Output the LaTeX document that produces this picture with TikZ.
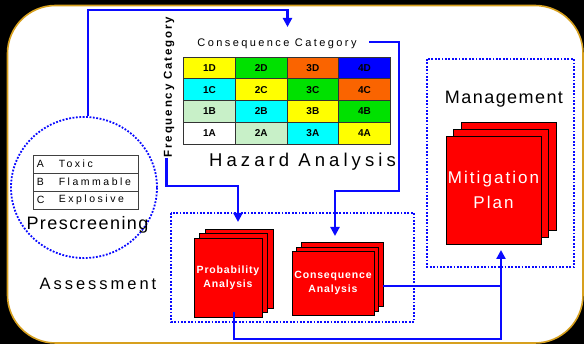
\documentclass[tikz,border=0pt]{standalone}
\usepackage{fontspec}
\setmainfont{Liberation Sans}
\newfontfamily\wideH[LetterSpace=22]{Liberation Sans}
\newfontfamily\wideL[LetterSpace=18]{Liberation Sans}
\newfontfamily\wideM[LetterSpace=8]{Liberation Sans}
\newfontfamily\wideF[LetterSpace=16]{Liberation Sans}
\newfontfamily\wideS[LetterSpace=22]{Liberation Sans}
\newfontfamily\wideT[LetterSpace=24]{Liberation Sans}
\newfontfamily\wideP[LetterSpace=12]{Liberation Sans}
\usetikzlibrary{arrows.meta,shapes.geometric}
\definecolor{gold}{RGB}{215,160,30}
\definecolor{hy}{RGB}{255,255,0}
\definecolor{hg}{RGB}{0,225,0}
\definecolor{ho}{RGB}{250,100,0}
\definecolor{hb}{RGB}{0,0,255}
\definecolor{hc}{RGB}{0,255,255}
\definecolor{hl}{RGB}{200,240,200}
\definecolor{hw}{RGB}{255,255,255}
\definecolor{flowblue}{RGB}{10,10,255}
\begin{document}
\begin{tikzpicture}[x=1pt,y=-1pt,
  flow/.style={draw=flowblue,line width=2.2pt,-{Triangle[width=9pt,length=9pt]}},
  flowline/.style={draw=flowblue,line width=2.2pt},
  dotbox/.style={draw=flowblue,line width=1.8pt,dash pattern=on 1.8pt off 1.6pt},
  redbox/.style={draw=black,line width=0.8pt,fill=red,inner sep=0pt},
  cell/.style={draw=black!80,line width=0.8pt,minimum width=51.7pt,minimum height=21.75pt,inner sep=0pt,font=\bfseries\fontsize{10}{10}\selectfont},
  tcell/.style={draw=black!75,line width=0.8pt,minimum width=105pt,minimum height=18pt,inner sep=0pt},
  lbl/.style={inner sep=0pt}
]
\fill[black] (0,0) rectangle (584,344);
\draw[gold,line width=1.6pt,fill=white,rounded corners=48pt] (7.5,5.5) rectangle (583,343);

% Hazard grid
\foreach \lab/\col/\i/\j in {1D/hy/0/0,2D/hg/1/0,3D/ho/2/0,4D/hb/3/0,
  1C/hc/0/1,2C/hy/1/1,3C/hg/2/1,4C/ho/3/1,
  1B/hl/0/2,2B/hc/1/2,3B/hy/2/2,4B/hg/3/2,
  1A/hw/0/3,2A/hl/1/3,3A/hc/2/3,4A/hy/3/3}
  \node[cell,fill=\col] (cell\lab) at ({183.6+51.7*\i+25.85},{57+21.75*\j+10.875}) {\lab};

\node[lbl,font=\fontsize{11}{11}\selectfont\wideS] (cc) at (277,44) {Consequence Category};
\node[lbl,rotate=90,font=\bfseries\fontsize{11.5}{11.5}\selectfont\wideF] (fc) at (169,87) {Frequency Category};
\node[lbl,font=\fontsize{18.5}{18.5}\selectfont\wideH] (ha) at (302.5,162) {Hazard Analysis};

% Prescreening
\node[draw=flowblue,line width=1.8pt,dash pattern=on 1.8pt off 1.6pt,ellipse,minimum width=146pt,minimum height=141pt,inner sep=0pt] (pre) at (84,187.5) {};
\node[tcell] (ta) at (85.5,164) {};
\node[tcell] (tb) at (85.5,182) {};
\node[tcell] (tc) at (85.5,200) {};
\foreach \n/\l/\w in {ta/A/Toxic,tb/B/Flammable,tc/C/Explosive}{
  \node[lbl,anchor=west,font=\fontsize{10.5}{10.5}\selectfont\wideT] (\n l) at ([xshift=4pt]\n.west) {\l};
  \node[lbl,anchor=west,font=\fontsize{10.5}{10.5}\selectfont\wideT] (\n w) at ([xshift=26pt]\n.west) {\w};
}
\node[lbl,font=\fontsize{18}{18}\selectfont\wideM] (pt) at (87.5,225) {Prescreening};

% Assessment
\node[lbl,font=\fontsize{16.5}{16.5}\selectfont\wideL] (at) at (98,284) {Assessment};
\draw[dotbox] (171,213) rectangle (414,322);
\node[redbox,minimum width=68pt,minimum height=79pt] (pa3) at (239,268.5) {};
\node[redbox,minimum width=68pt,minimum height=79pt] (pa2) at (233.5,273) {};
\node[redbox,minimum width=68pt,minimum height=79pt,align=center,text=white,font=\bfseries\fontsize{10.5}{14}\selectfont\wideM] (pa) at (228,277.5) {Probability\\Analysis};
\node[redbox,minimum width=82pt,minimum height=64pt] (ca3) at (342,274) {};
\node[redbox,minimum width=82pt,minimum height=64pt] (ca2) at (337,279) {};
\node[redbox,minimum width=82pt,minimum height=64pt,align=center,text=white,font=\bfseries\fontsize{10.5}{14}\selectfont\wideM] (ca) at (333,283) {Consequence\\Analysis};

% Management
\draw[dotbox] (427,59) rectangle (574,267);
\node[lbl,font=\fontsize{18}{18}\selectfont\wideM] (mt) at (504,99) {Management};
\node[redbox,minimum width=95pt,minimum height=108pt] (mp3) at (508.5,176.5) {};
\node[redbox,minimum width=95pt,minimum height=108pt] (mp2) at (501,183.3) {};
\node[redbox,minimum width=95pt,minimum height=108pt,align=center,text=white,font=\fontsize{17}{25}\selectfont\wideP] (mp) at (493.5,190) {Mitigation\\Plan};

% connectors
\coordinate (a1e) at (287.5,27);
\draw[flow] ([xshift=4pt]pre.north) |- (95,10) -| (a1e);
\coordinate (a2s) at (369,41.7);
\coordinate (a2e) at (335,236);
\draw[flow] (a2s) -- (399,41.7) -- (399,190.7) -| (a2e);
\coordinate (a3s) at (166.5,158);
\coordinate (a3e) at (238,222);
\draw[flow] (a3s) -- (166.5,186) -| (a3e);
\coordinate (a4e) at (501,250);
\draw[flow] (ca3.east |- 0,285.7) -| (a4e);
\coordinate (a5s) at (234,312);
\draw[flowline] (a5s) -- (234,339) -| (501,285.7);
\end{tikzpicture}
\end{document}
